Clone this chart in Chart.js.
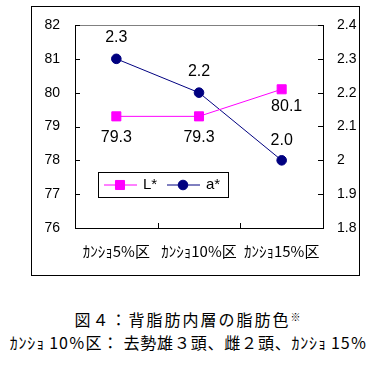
<!DOCTYPE html>
<html>
<head>
<meta charset="utf-8">
<script src="https://cdn.jsdelivr.net/npm/chart.js@4"></script>
<style>
body { margin: 0; background: #fff; width: 377px; height: 380px; position: relative; overflow: hidden; font-family: "Noto Sans CJK JP", sans-serif; }
#box { position: absolute; left: 31px; top: 6px; width: 327px; height: 268px; border: 1px solid #000; }
.cap { position: absolute; left: 0; width: 377px; text-align: center; color: #000; white-space: nowrap; font-size: 16px; line-height: 20px; }
</style>
</head>
<body>
<div id="box"><canvas id="c" width="327" height="268"></canvas></div>
<div class="cap" style="top:307px;letter-spacing:2px;">図４：背脂肪内層の脂肪色<span style="font-size:10px;vertical-align:5px;">※</span></div>
<div class="cap" style="top:332px;letter-spacing:0.8px;">ｶﾝｼｮ 10％区： 去勢雄３頭、雌２頭、ｶﾝｼｮ 15％</div>
<script>
// data
const categories = ['ｶﾝｼｮ5%区', 'ｶﾝｼｮ10%区', 'ｶﾝｼｮ15%区'];
const lValues = [79.3, 79.3, 80.1];
const aValues = [2.3, 2.2, 2.0];
const leftTicks = [76, 77, 78, 79, 80, 81, 82];
const rightTicks = [1.8, 1.9, 2.0, 2.1, 2.2, 2.3, 2.4];

const NUM_FONT = '"Liberation Sans", Arial, sans-serif';

// inward tick marks + grey top edge of the plot area
const innerTicks = {
    id: 'innerTicks',
    afterDraw(chart) {
        const { ctx, chartArea: a, scales } = chart;
        ctx.save();
        ctx.strokeStyle = '#808080';
        ctx.lineWidth = 1;
        ctx.beginPath();
        ctx.moveTo(a.left, a.top + 0.5);
        ctx.lineTo(a.right, a.top + 0.5);
        ctx.stroke();

        ctx.strokeStyle = '#000';
        ctx.beginPath();
        scales.yL.ticks.forEach(t => {
            const y = Math.round(scales.yL.getPixelForValue(t.value)) + 0.5;
            ctx.moveTo(a.left, y); ctx.lineTo(a.left + 5, y);
        });
        scales.yA.ticks.forEach(t => {
            const y = Math.round(scales.yA.getPixelForValue(t.value)) + 0.5;
            ctx.moveTo(a.right, y); ctx.lineTo(a.right - 5, y);
        });
        for (let i = 1; i < categories.length; i++) {
            const x = Math.round((scales.x.getPixelForValue(i - 1) + scales.x.getPixelForValue(i)) / 2) + 0.5;
            ctx.moveTo(x, a.bottom); ctx.lineTo(x, a.bottom - 5);
        }
        ctx.stroke();
        ctx.restore();
    }
};

// value labels next to the points
const valueLabels = {
    id: 'valueLabels',
    afterDatasetsDraw(chart, args, opts) {
        const { ctx } = chart;
        ctx.save();
        ctx.font = '16px ' + NUM_FONT;
        ctx.fillStyle = '#000';
        ctx.textAlign = 'center';
        ctx.textBaseline = 'middle';
        chart.data.datasets.forEach((ds, di) => {
            const meta = chart.getDatasetMeta(di);
            const offs = opts.offsets[di];
            meta.data.forEach((pt, i) => {
                const o = offs[i];
                ctx.fillText(ds.data[i].toFixed(1), pt.x + o[0], pt.y + o[1]);
            });
        });
        ctx.restore();
    }
};

// legend box inside the plot
const boxLegend = {
    id: 'boxLegend',
    afterDraw(chart, args, opts) {
        const { ctx } = chart;
        const { x, y, w, h } = opts;
        ctx.save();
        ctx.fillStyle = '#fff';
        ctx.fillRect(x, y, w, h);
        ctx.strokeStyle = '#000';
        ctx.lineWidth = 1;
        ctx.strokeRect(x + 0.5, y + 0.5, w, h);
        const cy = y + h / 2 + 0.5;
        let cx = x + 6;
        ctx.font = '15px ' + NUM_FONT;
        ctx.textBaseline = 'middle';
        chart.data.datasets.forEach(ds => {
            ctx.strokeStyle = ds.borderColor;
            ctx.fillStyle = ds.pointBackgroundColor;
            ctx.lineWidth = 1;
            ctx.beginPath();
            ctx.moveTo(cx, cy); ctx.lineTo(cx + 33, cy);
            ctx.stroke();
            Chart.helpers.drawPoint(ctx, {
                pointStyle: ds.pointStyle, radius: ds.pointRadius, borderWidth: 1
            }, cx + 16, cy);
            ctx.fillStyle = '#000';
            ctx.fillText(ds.label, cx + 39, cy);
            cx += 63;
        });
        ctx.restore();
    }
};

// fixed axis sizes; drop the label overhang padding so the plot area lands where it should
function fixY(width) {
    return s => { s.width = width; s.paddingTop = 0; s.paddingBottom = 0; };
}

new Chart(document.getElementById('c'), {
    type: 'line',
    data: {
        labels: categories,
        datasets: [
            {
                label: 'L*',
                data: lValues,
                yAxisID: 'yL',
                borderColor: '#ff00ff',
                backgroundColor: '#ff00ff',
                pointBackgroundColor: '#ff00ff',
                pointBorderColor: '#ff00ff',
                pointStyle: 'rect',
                pointRadius: 6.4,
                pointBorderWidth: 1,
                borderWidth: 1,
                tension: 0
            },
            {
                label: 'a*',
                data: aValues,
                yAxisID: 'yA',
                borderColor: '#000080',
                backgroundColor: '#000080',
                pointBackgroundColor: '#000080',
                pointBorderColor: '#000080',
                pointStyle: 'circle',
                pointRadius: 4.8,
                pointBorderWidth: 1,
                borderWidth: 1,
                tension: 0
            }
        ]
    },
    options: {
        responsive: false,
        animation: false,
        layout: { padding: { top: 18, left: 0, right: 0, bottom: 0 } },
        plugins: {
            legend: { display: false },
            tooltip: { enabled: false },
            valueLabels: {
                offsets: [
                    [[0, 21], [0, 21], [5, 17]],
                    [[0, -21], [0, -21], [0, -20]]
                ]
            },
            boxLegend: { x: 66, y: 165, w: 130, h: 25 }
        },
        scales: {
            x: {
                offset: true,
                grid: { display: false, drawTicks: false },
                border: { display: true, color: '#000', width: 1 },
                ticks: { color: '#000', padding: 14, maxRotation: 0, autoSkip: false, font: { family: '"Noto Sans CJK JP"', size: 15 } },
                afterFit(s) { s.height = 47; s.paddingLeft = 0; s.paddingRight = 0; }
            },
            yL: {
                position: 'left',
                min: 76, max: 82,
                afterBuildTicks(s) { s.ticks = leftTicks.map(v => ({ value: v })); },
                grid: { display: false, drawTicks: false },
                border: { display: true, color: '#000', width: 1 },
                ticks: { color: '#000', padding: 15, font: { family: NUM_FONT, size: 14 } },
                afterFit: fixY(43)
            },
            yA: {
                position: 'right',
                min: 1.8, max: 2.4,
                afterBuildTicks(s) { s.ticks = rightTicks.map(v => ({ value: v })); },
                grid: { display: false, drawTicks: false },
                border: { display: true, color: '#000', width: 1 },
                ticks: {
                    color: '#000', padding: 14, font: { family: NUM_FONT, size: 14 },
                    callback: v => String(Number(v.toFixed(1)))
                },
                afterFit: fixY(36)
            }
        }
    },
    plugins: [innerTicks, valueLabels, boxLegend]
});
</script>
</body>
</html>
